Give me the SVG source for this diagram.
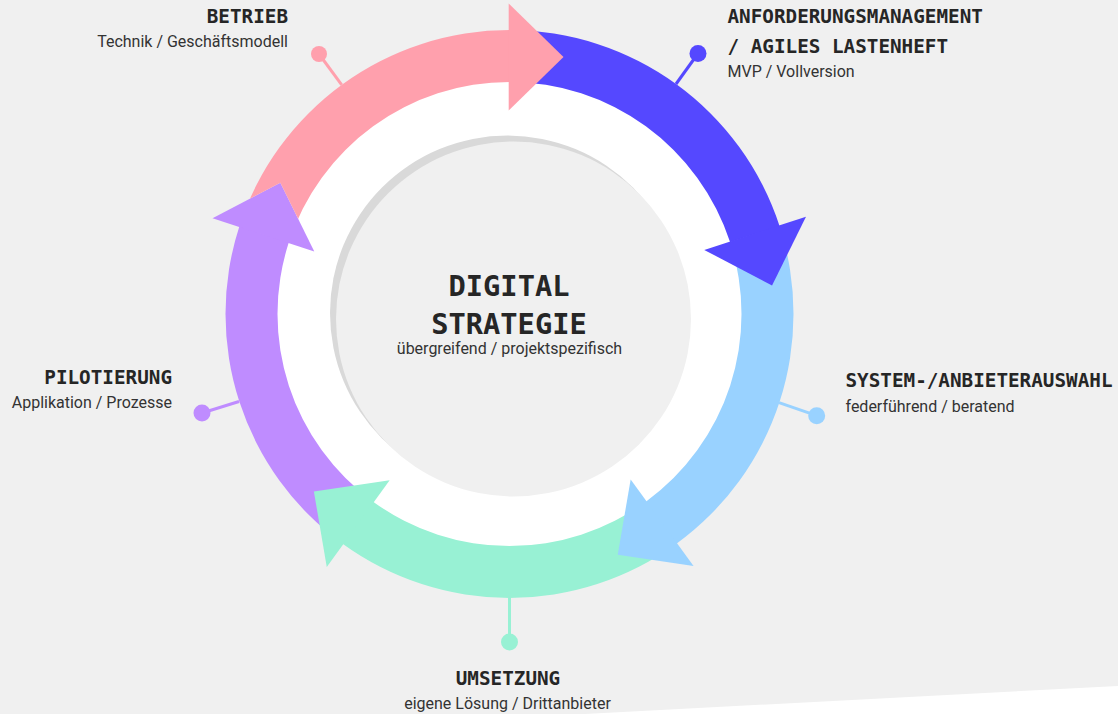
<svg xmlns="http://www.w3.org/2000/svg" width="1118" height="714" viewBox="0 0 1118 714">
  <style>
    .lbl { font-family: "DejaVu Sans Mono", "Liberation Mono", monospace; font-weight: bold; font-size: 19.3px; fill: #262626; }
    .sub { font-family: Roboto, "Liberation Sans", sans-serif; font-size: 16px; fill: #333333; }
    .ttl { font-family: "DejaVu Sans Mono", "Liberation Mono", monospace; font-weight: bold; font-size: 28.7px; fill: #262626; }
    .pink { fill: #ffa0ad; }
    .blue { fill: #5548ff; }
    .lblue { fill: #99d2ff; }
    .green { fill: #98f1d4; }
    .purple { fill: #bf8cff; }
    .conn line { stroke-width: 3; }
  </style>
  <defs>
    <polygon id="head-purple" points="212.52,218.35 280.34,182.76 314.28,251.41"/>
    <mask id="m-pink" maskUnits="userSpaceOnUse" x="0" y="0" width="1118" height="714">
      <rect x="0" y="0" width="1118" height="714" fill="#fff"/>
      <use href="#head-purple" fill="#000"/>
    </mask>
  </defs>

  <rect x="0" y="0" width="1118" height="714" fill="#f0f0f0"/>
  <polygon points="585,714 1118,686 1118,714" fill="#ffffff"/>

  <g id="center">
    <circle cx="509.5" cy="314" r="236" fill="#ffffff"/>
    <circle cx="507.5" cy="313" r="177.5" fill="#d9d9d9"/>
    <circle cx="513.5" cy="319" r="177.5" fill="#f0f0f0"/>
    <text class="ttl" x="509" y="295.5" text-anchor="middle">DIGITAL</text>
    <text class="ttl" x="509" y="334" text-anchor="middle">STRATEGIE</text>
    <text class="sub" x="509.5" y="354" text-anchor="middle">übergreifend / projektspezifisch</text>
  </g>

  <g id="connectors" class="conn">
    <line x1="341.7" y1="84.8" x2="319" y2="54" stroke="#ffa0ad"/>
    <circle cx="319" cy="54" r="8" fill="#ffa0ad"/>
    <line x1="676" y1="84" x2="698" y2="53.5" stroke="#5548ff"/>
    <circle cx="698" cy="53.5" r="8.5" fill="#5548ff"/>
    <line x1="779" y1="402.7" x2="816.7" y2="415.7" stroke="#99d2ff"/>
    <circle cx="816.7" cy="415.7" r="8.5" fill="#99d2ff"/>
    <line x1="509.5" y1="596" x2="509.5" y2="642" stroke="#98f1d4"/>
    <circle cx="509.5" cy="642" r="8.5" fill="#98f1d4"/>
    <line x1="239" y1="401.5" x2="202" y2="413" stroke="#bf8cff"/>
    <circle cx="202" cy="413" r="8.5" fill="#bf8cff"/>
  </g>

  <g id="pilotierung">
    <path class="purple" d="M342.57,543.76 A284,284 0 0 1 239.40,226.24 L288.85,242.31 A232,232 0 0 0 373.13,501.69 Z"/>
    <use href="#head-purple" class="purple"/>
    <text class="lbl" x="172" y="383.5" text-anchor="end">PILOTIERUNG</text>
    <text class="sub" x="172" y="408" text-anchor="end">Applikation / Prozesse</text>
  </g>

  <g id="umsetzung">
    <path class="green" d="M676.43,543.76 A284,284 0 0 1 342.57,543.76 L373.13,501.69 A232,232 0 0 0 645.87,501.69 Z"/>
    <polygon class="green" points="326.76,566.88 313.87,491.39 389.65,480.32"/>
    <text class="lbl" x="508" y="685" text-anchor="middle">UMSETZUNG</text>
    <text class="sub" x="507.5" y="709" text-anchor="middle">eigene Lösung / Drittanbieter</text>
  </g>

  <g id="systemauswahl">
    <path class="lblue" d="M779.60,226.24 A284,284 0 0 1 676.43,543.76 L645.87,501.69 A232,232 0 0 0 730.15,242.31 Z"/>
    <polygon class="lblue" points="693.54,565.94 617.75,554.87 630.65,479.38"/>
    <text class="lbl" x="845.5" y="386.7">SYSTEM-/ANBIETERAUSWAHL</text>
    <text class="sub" x="845.5" y="411.5">federführend / beratend</text>
  </g>

  <g id="anforderungsmanagement">
    <path class="blue" d="M509.5,30 A284,284 0 0 1 779.60,226.24 L730.15,242.31 A232,232 0 0 0 509.5,82 Z"/>
    <polygon class="blue" points="805.98,216.83 772.04,285.48 704.22,249.89"/>
    <text class="lbl" x="727.5" y="22.7">ANFORDERUNGSMANAGEMENT</text>
    <text class="lbl" x="727.5" y="52.7">/ AGILES LASTENHEFT</text>
    <text class="sub" x="727.5" y="77">MVP / Vollversion</text>
  </g>

  <g id="betrieb">
    <path class="pink" mask="url(#m-pink)" d="M239.40,226.24 A284,284 0 0 1 509.5,30 L509.5,82 A232,232 0 0 0 288.85,242.31 Z"/>
    <polygon class="pink" points="508.7,3.5 563.5,57 508.7,110.5"/>
    <text class="lbl" x="288" y="22.7" text-anchor="end">BETRIEB</text>
    <text class="sub" x="288" y="47" text-anchor="end">Technik / Geschäftsmodell</text>
  </g>
</svg>
